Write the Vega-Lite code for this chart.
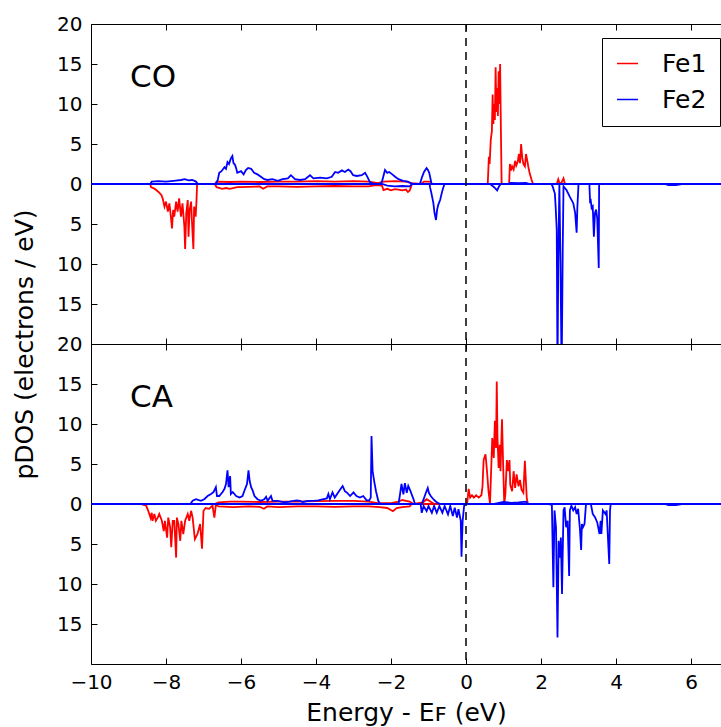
{
  "$schema": "https://vega.github.io/schema/vega-lite/v6.json",
  "padding": {"left": 11, "top": 13, "right": 0, "bottom": 0},
  "spacing": 0,
  "bounds": "flush",
  "config": {
    "font": "DejaVu Sans",
    "view": {"stroke": "black", "strokeWidth": 1},
    "axis": {"domain": false, "grid": false, "tickColor": "black", "tickSize": -6, "tickWidth": 1, "labelFontSize": 20, "labelColor": "black", "titleFontSize": 25, "titleFontWeight": "normal", "titleColor": "black", "labelFlush": false, "labelOverlap": false}
  },
  "resolve": {"scale": {"color": "independent"}},
  "vconcat": [
    {
      "width": 630, "height": 320,
      "resolve": {"axis": {"x": "independent", "y": "independent"}},
      "layer": [
        {
          "data": {"values": [
{"a":"Fe1","s":"u","x":-10,"y":0},{"a":"Fe1","s":"u","x":-6.7,"y":0},{"a":"Fe1","s":"u","x":-6.65,"y":0.3},{"a":"Fe1","s":"u","x":-6.3,"y":0.25},{"a":"Fe1","s":"u","x":-6.0,"y":0.3},{"a":"Fe1","s":"u","x":-5.5,"y":0.25},{"a":"Fe1","s":"u","x":-5.0,"y":0.3},{"a":"Fe1","s":"u","x":-4.5,"y":0.3},{"a":"Fe1","s":"u","x":-4.0,"y":0.35},{"a":"Fe1","s":"u","x":-3.5,"y":0.3},{"a":"Fe1","s":"u","x":-3.0,"y":0.35},{"a":"Fe1","s":"u","x":-2.6,"y":0.3},{"a":"Fe1","s":"u","x":-2.35,"y":0.1},{"a":"Fe1","s":"u","x":-2.2,"y":0.3},{"a":"Fe1","s":"u","x":-1.9,"y":0.35},{"a":"Fe1","s":"u","x":-1.6,"y":0.3},{"a":"Fe1","s":"u","x":-1.45,"y":0.1},{"a":"Fe1","s":"u","x":-1.2,"y":0},{"a":"Fe1","s":"u","x":-1.12,"y":0.3},{"a":"Fe1","s":"u","x":-0.95,"y":0.3},{"a":"Fe1","s":"u","x":-0.9,"y":0},{"a":"Fe1","s":"u","x":0.58,"y":0},{"a":"Fe1","s":"u","x":0.61,"y":3.4},{"a":"Fe1","s":"u","x":0.63,"y":2.5},{"a":"Fe1","s":"u","x":0.66,"y":5.5},{"a":"Fe1","s":"u","x":0.69,"y":6.6},{"a":"Fe1","s":"u","x":0.71,"y":11.2},{"a":"Fe1","s":"u","x":0.73,"y":7.5},{"a":"Fe1","s":"u","x":0.75,"y":10},{"a":"Fe1","s":"u","x":0.77,"y":8},{"a":"Fe1","s":"u","x":0.79,"y":14.6},{"a":"Fe1","s":"u","x":0.81,"y":9},{"a":"Fe1","s":"u","x":0.83,"y":12},{"a":"Fe1","s":"u","x":0.85,"y":8.5},{"a":"Fe1","s":"u","x":0.87,"y":14.1},{"a":"Fe1","s":"u","x":0.89,"y":10},{"a":"Fe1","s":"u","x":0.91,"y":15},{"a":"Fe1","s":"u","x":0.93,"y":7},{"a":"Fe1","s":"u","x":0.95,"y":0},{"a":"Fe1","s":"u","x":1.15,"y":0},{"a":"Fe1","s":"u","x":1.17,"y":2.5},{"a":"Fe1","s":"u","x":1.2,"y":1.7},{"a":"Fe1","s":"u","x":1.23,"y":2.2},{"a":"Fe1","s":"u","x":1.27,"y":1.8},{"a":"Fe1","s":"u","x":1.31,"y":2.9},{"a":"Fe1","s":"u","x":1.34,"y":2.3},{"a":"Fe1","s":"u","x":1.38,"y":2.8},{"a":"Fe1","s":"u","x":1.41,"y":3.75},{"a":"Fe1","s":"u","x":1.44,"y":2.6},{"a":"Fe1","s":"u","x":1.47,"y":5.0},{"a":"Fe1","s":"u","x":1.5,"y":3.3},{"a":"Fe1","s":"u","x":1.53,"y":2.5},{"a":"Fe1","s":"u","x":1.57,"y":2.2},{"a":"Fe1","s":"u","x":1.6,"y":3.75},{"a":"Fe1","s":"u","x":1.63,"y":3.0},{"a":"Fe1","s":"u","x":1.66,"y":2.2},{"a":"Fe1","s":"u","x":1.69,"y":1.5},{"a":"Fe1","s":"u","x":1.75,"y":0.5},{"a":"Fe1","s":"u","x":1.79,"y":0},{"a":"Fe1","s":"u","x":2.42,"y":0},{"a":"Fe1","s":"u","x":2.46,"y":0.6},{"a":"Fe1","s":"u","x":2.5,"y":0},{"a":"Fe1","s":"u","x":2.55,"y":0.2},{"a":"Fe1","s":"u","x":2.6,"y":0.7},{"a":"Fe1","s":"u","x":2.64,"y":0},{"a":"Fe1","s":"u","x":6.8,"y":0},
{"a":"Fe1","s":"d","x":-10,"y":0},{"a":"Fe1","s":"d","x":-8.42,"y":0},{"a":"Fe1","s":"d","x":-8.4,"y":-0.4},{"a":"Fe1","s":"d","x":-8.3,"y":-0.6},{"a":"Fe1","s":"d","x":-8.2,"y":-1.0},{"a":"Fe1","s":"d","x":-8.12,"y":-1.4},{"a":"Fe1","s":"d","x":-8.09,"y":-1.79},{"a":"Fe1","s":"d","x":-8.04,"y":-2.83},{"a":"Fe1","s":"d","x":-8.0,"y":-2.2},{"a":"Fe1","s":"d","x":-7.95,"y":-3.46},{"a":"Fe1","s":"d","x":-7.91,"y":-2.42},{"a":"Fe1","s":"d","x":-7.87,"y":-4.08},{"a":"Fe1","s":"d","x":-7.84,"y":-5.54},{"a":"Fe1","s":"d","x":-7.81,"y":-3.25},{"a":"Fe1","s":"d","x":-7.78,"y":-4.08},{"a":"Fe1","s":"d","x":-7.73,"y":-2.2},{"a":"Fe1","s":"d","x":-7.69,"y":-3.46},{"a":"Fe1","s":"d","x":-7.65,"y":-1.79},{"a":"Fe1","s":"d","x":-7.6,"y":-4.08},{"a":"Fe1","s":"d","x":-7.56,"y":-2.42},{"a":"Fe1","s":"d","x":-7.51,"y":-5.33},{"a":"Fe1","s":"d","x":-7.49,"y":-8.13},{"a":"Fe1","s":"d","x":-7.46,"y":-3.67},{"a":"Fe1","s":"d","x":-7.42,"y":-2.0},{"a":"Fe1","s":"d","x":-7.4,"y":-6.58},{"a":"Fe1","s":"d","x":-7.37,"y":-3.25},{"a":"Fe1","s":"d","x":-7.33,"y":-2.2},{"a":"Fe1","s":"d","x":-7.31,"y":-4.5},{"a":"Fe1","s":"d","x":-7.27,"y":-8.13},{"a":"Fe1","s":"d","x":-7.25,"y":-2.83},{"a":"Fe1","s":"d","x":-7.21,"y":-4.08},{"a":"Fe1","s":"d","x":-7.19,"y":-2.42},{"a":"Fe1","s":"d","x":-7.17,"y":0},{"a":"Fe1","s":"d","x":-6.7,"y":0},{"a":"Fe1","s":"d","x":-6.65,"y":-0.4},{"a":"Fe1","s":"d","x":-6.5,"y":-0.6},{"a":"Fe1","s":"d","x":-6.4,"y":-0.5},{"a":"Fe1","s":"d","x":-6.3,"y":-0.6},{"a":"Fe1","s":"d","x":-6.1,"y":-0.4},{"a":"Fe1","s":"d","x":-5.8,"y":-0.35},{"a":"Fe1","s":"d","x":-5.5,"y":-0.3},{"a":"Fe1","s":"d","x":-5.41,"y":-0.6},{"a":"Fe1","s":"d","x":-5.3,"y":-0.3},{"a":"Fe1","s":"d","x":-5.0,"y":-0.3},{"a":"Fe1","s":"d","x":-4.5,"y":-0.35},{"a":"Fe1","s":"d","x":-4.0,"y":-0.3},{"a":"Fe1","s":"d","x":-3.5,"y":-0.25},{"a":"Fe1","s":"d","x":-3.0,"y":-0.3},{"a":"Fe1","s":"d","x":-2.6,"y":-0.3},{"a":"Fe1","s":"d","x":-2.4,"y":-0.15},{"a":"Fe1","s":"d","x":-2.24,"y":-0.2},{"a":"Fe1","s":"d","x":-2.2,"y":-0.75},{"a":"Fe1","s":"d","x":-2.1,"y":-0.6},{"a":"Fe1","s":"d","x":-2.0,"y":-0.8},{"a":"Fe1","s":"d","x":-1.9,"y":-0.65},{"a":"Fe1","s":"d","x":-1.8,"y":-0.7},{"a":"Fe1","s":"d","x":-1.7,"y":-0.8},{"a":"Fe1","s":"d","x":-1.6,"y":-0.7},{"a":"Fe1","s":"d","x":-1.55,"y":-1.0},{"a":"Fe1","s":"d","x":-1.5,"y":-0.8},{"a":"Fe1","s":"d","x":-1.44,"y":0},{"a":"Fe1","s":"d","x":6.8,"y":0},
{"a":"Fe2","s":"u","x":-10,"y":0},{"a":"Fe2","s":"u","x":-8.42,"y":0},{"a":"Fe2","s":"u","x":-8.38,"y":0.3},{"a":"Fe2","s":"u","x":-8.2,"y":0.35},{"a":"Fe2","s":"u","x":-8.0,"y":0.3},{"a":"Fe2","s":"u","x":-7.8,"y":0.4},{"a":"Fe2","s":"u","x":-7.6,"y":0.5},{"a":"Fe2","s":"u","x":-7.5,"y":0.6},{"a":"Fe2","s":"u","x":-7.4,"y":0.45},{"a":"Fe2","s":"u","x":-7.3,"y":0.5},{"a":"Fe2","s":"u","x":-7.2,"y":0.3},{"a":"Fe2","s":"u","x":-7.15,"y":0},{"a":"Fe2","s":"u","x":-6.67,"y":0},{"a":"Fe2","s":"u","x":-6.62,"y":0.5},{"a":"Fe2","s":"u","x":-6.58,"y":1.4},{"a":"Fe2","s":"u","x":-6.52,"y":1.6},{"a":"Fe2","s":"u","x":-6.44,"y":2.1},{"a":"Fe2","s":"u","x":-6.4,"y":1.9},{"a":"Fe2","s":"u","x":-6.36,"y":2.75},{"a":"Fe2","s":"u","x":-6.32,"y":2.5},{"a":"Fe2","s":"u","x":-6.27,"y":3.2},{"a":"Fe2","s":"u","x":-6.23,"y":3.5},{"a":"Fe2","s":"u","x":-6.2,"y":2.6},{"a":"Fe2","s":"u","x":-6.16,"y":2.4},{"a":"Fe2","s":"u","x":-6.12,"y":1.8},{"a":"Fe2","s":"u","x":-6.1,"y":1.4},{"a":"Fe2","s":"u","x":-6.0,"y":1.6},{"a":"Fe2","s":"u","x":-5.93,"y":1.2},{"a":"Fe2","s":"u","x":-5.87,"y":1.75},{"a":"Fe2","s":"u","x":-5.81,"y":2.0},{"a":"Fe2","s":"u","x":-5.73,"y":1.9},{"a":"Fe2","s":"u","x":-5.65,"y":1.4},{"a":"Fe2","s":"u","x":-5.56,"y":1.2},{"a":"Fe2","s":"u","x":-5.47,"y":0.9},{"a":"Fe2","s":"u","x":-5.38,"y":0.6},{"a":"Fe2","s":"u","x":-5.29,"y":0.5},{"a":"Fe2","s":"u","x":-5.16,"y":0.6},{"a":"Fe2","s":"u","x":-5.02,"y":0.4},{"a":"Fe2","s":"u","x":-4.89,"y":0.6},{"a":"Fe2","s":"u","x":-4.75,"y":0.7},{"a":"Fe2","s":"u","x":-4.67,"y":1.1},{"a":"Fe2","s":"u","x":-4.56,"y":0.6},{"a":"Fe2","s":"u","x":-4.43,"y":0.5},{"a":"Fe2","s":"u","x":-4.29,"y":0.6},{"a":"Fe2","s":"u","x":-4.16,"y":1.1},{"a":"Fe2","s":"u","x":-4.07,"y":0.7},{"a":"Fe2","s":"u","x":-3.89,"y":0.8},{"a":"Fe2","s":"u","x":-3.71,"y":0.7},{"a":"Fe2","s":"u","x":-3.58,"y":0.9},{"a":"Fe2","s":"u","x":-3.49,"y":1.5},{"a":"Fe2","s":"u","x":-3.41,"y":1.4},{"a":"Fe2","s":"u","x":-3.31,"y":1.7},{"a":"Fe2","s":"u","x":-3.23,"y":1.5},{"a":"Fe2","s":"u","x":-3.14,"y":1.8},{"a":"Fe2","s":"u","x":-3.08,"y":1.6},{"a":"Fe2","s":"u","x":-3.01,"y":1.1},{"a":"Fe2","s":"u","x":-2.91,"y":1.0},{"a":"Fe2","s":"u","x":-2.78,"y":1.1},{"a":"Fe2","s":"u","x":-2.69,"y":1.4},{"a":"Fe2","s":"u","x":-2.63,"y":0.9},{"a":"Fe2","s":"u","x":-2.56,"y":0.2},{"a":"Fe2","s":"u","x":-2.47,"y":0.05},{"a":"Fe2","s":"u","x":-2.29,"y":0},{"a":"Fe2","s":"u","x":-2.24,"y":0.3},{"a":"Fe2","s":"u","x":-2.16,"y":1.75},{"a":"Fe2","s":"u","x":-2.1,"y":1.4},{"a":"Fe2","s":"u","x":-2.05,"y":1.5},{"a":"Fe2","s":"u","x":-1.99,"y":1.3},{"a":"Fe2","s":"u","x":-1.89,"y":0.9},{"a":"Fe2","s":"u","x":-1.8,"y":0.6},{"a":"Fe2","s":"u","x":-1.68,"y":0.4},{"a":"Fe2","s":"u","x":-1.55,"y":0.3},{"a":"Fe2","s":"u","x":-1.47,"y":0.1},{"a":"Fe2","s":"u","x":-1.41,"y":0},{"a":"Fe2","s":"u","x":-1.23,"y":0},{"a":"Fe2","s":"u","x":-1.17,"y":0.9},{"a":"Fe2","s":"u","x":-1.12,"y":1.5},{"a":"Fe2","s":"u","x":-1.05,"y":2.0},{"a":"Fe2","s":"u","x":-1.02,"y":1.8},{"a":"Fe2","s":"u","x":-0.98,"y":1.4},{"a":"Fe2","s":"u","x":-0.94,"y":0.5},{"a":"Fe2","s":"u","x":-0.92,"y":0},{"a":"Fe2","s":"u","x":1.1,"y":0},{"a":"Fe2","s":"u","x":1.2,"y":0.15},{"a":"Fe2","s":"u","x":1.4,"y":0.1},{"a":"Fe2","s":"u","x":1.6,"y":0.15},{"a":"Fe2","s":"u","x":1.7,"y":0},{"a":"Fe2","s":"u","x":6.8,"y":0},
{"a":"Fe2","s":"d","x":-10,"y":0},{"a":"Fe2","s":"d","x":-2.24,"y":0},{"a":"Fe2","s":"d","x":-2.1,"y":-0.2},{"a":"Fe2","s":"d","x":-1.9,"y":-0.3},{"a":"Fe2","s":"d","x":-1.7,"y":-0.25},{"a":"Fe2","s":"d","x":-1.5,"y":-0.3},{"a":"Fe2","s":"d","x":-1.44,"y":0},{"a":"Fe2","s":"d","x":-0.97,"y":0},{"a":"Fe2","s":"d","x":-0.96,"y":-0.4},{"a":"Fe2","s":"d","x":-0.92,"y":-1.2},{"a":"Fe2","s":"d","x":-0.87,"y":-2.4},{"a":"Fe2","s":"d","x":-0.84,"y":-3.6},{"a":"Fe2","s":"d","x":-0.8,"y":-4.5},{"a":"Fe2","s":"d","x":-0.77,"y":-3.2},{"a":"Fe2","s":"d","x":-0.74,"y":-2.6},{"a":"Fe2","s":"d","x":-0.69,"y":-2.0},{"a":"Fe2","s":"d","x":-0.65,"y":-1.2},{"a":"Fe2","s":"d","x":-0.61,"y":-0.5},{"a":"Fe2","s":"d","x":-0.57,"y":0},{"a":"Fe2","s":"d","x":0.64,"y":0},{"a":"Fe2","s":"d","x":0.67,"y":-0.1},{"a":"Fe2","s":"d","x":0.75,"y":-0.4},{"a":"Fe2","s":"d","x":0.83,"y":-0.8},{"a":"Fe2","s":"d","x":0.88,"y":-0.3},{"a":"Fe2","s":"d","x":0.92,"y":0},{"a":"Fe2","s":"d","x":2.28,"y":0},{"a":"Fe2","s":"d","x":2.31,"y":-0.3},{"a":"Fe2","s":"d","x":2.37,"y":-1.2},{"a":"Fe2","s":"d","x":2.39,"y":-2.8},{"a":"Fe2","s":"d","x":2.42,"y":-5.75},{"a":"Fe2","s":"d","x":2.43,"y":-15},{"a":"Fe2","s":"d","x":2.44,"y":-24},{"a":"Fe2","s":"d","x":2.46,"y":-10},{"a":"Fe2","s":"d","x":2.49,"y":0},{"a":"Fe2","s":"d","x":2.52,"y":-10},{"a":"Fe2","s":"d","x":2.55,"y":-24},{"a":"Fe2","s":"d","x":2.58,"y":-8},{"a":"Fe2","s":"d","x":2.6,"y":-0.3},{"a":"Fe2","s":"d","x":2.68,"y":-0.75},{"a":"Fe2","s":"d","x":2.77,"y":-1.6},{"a":"Fe2","s":"d","x":2.86,"y":-2.4},{"a":"Fe2","s":"d","x":2.91,"y":-3.6},{"a":"Fe2","s":"d","x":2.95,"y":-6.1},{"a":"Fe2","s":"d","x":2.97,"y":-2.9},{"a":"Fe2","s":"d","x":3.0,"y":0},{"a":"Fe2","s":"d","x":3.29,"y":0},{"a":"Fe2","s":"d","x":3.31,"y":-2.4},{"a":"Fe2","s":"d","x":3.33,"y":-2.2},{"a":"Fe2","s":"d","x":3.35,"y":-3.0},{"a":"Fe2","s":"d","x":3.38,"y":-2.8},{"a":"Fe2","s":"d","x":3.41,"y":-6.6},{"a":"Fe2","s":"d","x":3.44,"y":-3.6},{"a":"Fe2","s":"d","x":3.47,"y":-3.2},{"a":"Fe2","s":"d","x":3.5,"y":-4.3},{"a":"Fe2","s":"d","x":3.54,"y":-10.5},{"a":"Fe2","s":"d","x":3.55,"y":0},{"a":"Fe2","s":"d","x":5.3,"y":0},{"a":"Fe2","s":"d","x":5.4,"y":-0.15},{"a":"Fe2","s":"d","x":5.6,"y":-0.15},{"a":"Fe2","s":"d","x":5.75,"y":0},{"a":"Fe2","s":"d","x":6.8,"y":0}
          ]},
          "mark": {"type": "line", "strokeWidth": 1.8, "clip": true},
          "encoding": {
            "x": {"field": "x", "type": "quantitative", "scale": {"domain": [-10, 6.8], "nice": false, "zero": false},
                  "axis": {"orient": "bottom", "labels": false, "title": null, "values": [-10, -8, -6, -4, -2, 0, 2, 4, 6]}},
            "y": {"field": "y", "type": "quantitative", "scale": {"domain": [-20, 20], "nice": false},
                  "axis": {"values": [-20, -15, -10, -5, 0, 5, 10, 15, 20], "labelExpr": "abs(datum.value)", "labelPadding": 15, "title": "pDOS (electrons / eV)", "titleX": -67, "titleY": 320, "titleBaseline": "middle"}},
            "color": {"field": "a", "type": "nominal", "scale": {"domain": ["Fe1", "Fe2"], "range": ["#ff0000", "#0000ff"]},
                      "legend": {"title": null, "orient": "none", "legendX": 511, "legendY": 14, "strokeColor": "black", "fillColor": "white", "padding": 13, "symbolType": "stroke", "symbolSize": 441, "symbolStrokeWidth": 1.5, "labelFontSize": 25, "labelOffset": 22, "rowPadding": 10, "cornerRadius": 0, "labelColor": "black"}},
            "detail": {"field": "s", "type": "nominal"}
          }
        },
        {
          "data": {"values": [{}]},
          "mark": {"type": "rule", "color": "black", "strokeWidth": 1.5, "strokeDash": [8, 6]},
          "encoding": {"x": {"datum": 0, "type": "quantitative", "axis": {"orient": "top", "labels": false, "title": null, "values": [-10, -8, -6, -4, -2, 0, 2, 4, 6]}}}
        },
        {
          "data": {"values": [{"x": -8.96, "y": 13.25, "t": "CO"}]},
          "mark": {"type": "text", "align": "left", "baseline": "middle", "fontSize": 31, "color": "black"},
          "encoding": {"x": {"field": "x", "type": "quantitative", "axis": null}, "y": {"field": "y", "type": "quantitative", "axis": null}, "text": {"field": "t"}}
        }
      ]
    },
    {
      "width": 630, "height": 320,
      "resolve": {"axis": {"x": "independent", "y": "independent"}},
      "layer": [
        {
          "data": {"values": [
{"a":"Fe1","s":"u","x":-10,"y":0},{"a":"Fe1","s":"u","x":-6.7,"y":0},{"a":"Fe1","s":"u","x":-6.6,"y":0.2},{"a":"Fe1","s":"u","x":-6.3,"y":0.3},{"a":"Fe1","s":"u","x":-6.0,"y":0.3},{"a":"Fe1","s":"u","x":-5.5,"y":0.25},{"a":"Fe1","s":"u","x":-5.0,"y":0.3},{"a":"Fe1","s":"u","x":-4.5,"y":0.3},{"a":"Fe1","s":"u","x":-4.0,"y":0.35},{"a":"Fe1","s":"u","x":-3.5,"y":0.4},{"a":"Fe1","s":"u","x":-3.0,"y":0.4},{"a":"Fe1","s":"u","x":-2.6,"y":0.3},{"a":"Fe1","s":"u","x":-2.35,"y":0.1},{"a":"Fe1","s":"u","x":-2.0,"y":0.1},{"a":"Fe1","s":"u","x":-1.8,"y":0.3},{"a":"Fe1","s":"u","x":-1.7,"y":0.5},{"a":"Fe1","s":"u","x":-1.6,"y":0.4},{"a":"Fe1","s":"u","x":-1.5,"y":0.3},{"a":"Fe1","s":"u","x":-1.4,"y":0},{"a":"Fe1","s":"u","x":-1.15,"y":0.2},{"a":"Fe1","s":"u","x":-1.05,"y":0.6},{"a":"Fe1","s":"u","x":-0.95,"y":0.3},{"a":"Fe1","s":"u","x":-0.85,"y":0},{"a":"Fe1","s":"u","x":0.03,"y":0},{"a":"Fe1","s":"u","x":0.07,"y":1.9},{"a":"Fe1","s":"u","x":0.11,"y":0.8},{"a":"Fe1","s":"u","x":0.16,"y":1.1},{"a":"Fe1","s":"u","x":0.21,"y":0.8},{"a":"Fe1","s":"u","x":0.27,"y":1.1},{"a":"Fe1","s":"u","x":0.34,"y":0.8},{"a":"Fe1","s":"u","x":0.41,"y":1.1},{"a":"Fe1","s":"u","x":0.44,"y":2.2},{"a":"Fe1","s":"u","x":0.47,"y":5.5},{"a":"Fe1","s":"u","x":0.52,"y":6.2},{"a":"Fe1","s":"u","x":0.56,"y":4.1},{"a":"Fe1","s":"u","x":0.6,"y":1.6},{"a":"Fe1","s":"u","x":0.64,"y":0},{"a":"Fe1","s":"u","x":0.67,"y":4.1},{"a":"Fe1","s":"u","x":0.7,"y":8.25},{"a":"Fe1","s":"u","x":0.74,"y":5.75},{"a":"Fe1","s":"u","x":0.77,"y":10.4},{"a":"Fe1","s":"u","x":0.8,"y":7.0},{"a":"Fe1","s":"u","x":0.82,"y":15.3},{"a":"Fe1","s":"u","x":0.84,"y":8.25},{"a":"Fe1","s":"u","x":0.87,"y":4.5},{"a":"Fe1","s":"u","x":0.9,"y":7.4},{"a":"Fe1","s":"u","x":0.92,"y":4.1},{"a":"Fe1","s":"u","x":0.96,"y":10.6},{"a":"Fe1","s":"u","x":0.99,"y":5},{"a":"Fe1","s":"u","x":1.02,"y":0},{"a":"Fe1","s":"u","x":1.05,"y":1.2},{"a":"Fe1","s":"u","x":1.09,"y":5.5},{"a":"Fe1","s":"u","x":1.12,"y":4.1},{"a":"Fe1","s":"u","x":1.16,"y":5.5},{"a":"Fe1","s":"u","x":1.18,"y":2.4},{"a":"Fe1","s":"u","x":1.23,"y":1.6},{"a":"Fe1","s":"u","x":1.27,"y":4.1},{"a":"Fe1","s":"u","x":1.31,"y":2.0},{"a":"Fe1","s":"u","x":1.35,"y":3.7},{"a":"Fe1","s":"u","x":1.4,"y":2.2},{"a":"Fe1","s":"u","x":1.44,"y":3.0},{"a":"Fe1","s":"u","x":1.48,"y":1.8},{"a":"Fe1","s":"u","x":1.53,"y":1.4},{"a":"Fe1","s":"u","x":1.57,"y":5.4},{"a":"Fe1","s":"u","x":1.62,"y":0.75},{"a":"Fe1","s":"u","x":1.65,"y":0},{"a":"Fe1","s":"u","x":6.8,"y":0},
{"a":"Fe1","s":"d","x":-10,"y":0},{"a":"Fe1","s":"d","x":-8.68,"y":0},{"a":"Fe1","s":"d","x":-8.53,"y":-0.2},{"a":"Fe1","s":"d","x":-8.47,"y":-0.9},{"a":"Fe1","s":"d","x":-8.41,"y":-1.75},{"a":"Fe1","s":"d","x":-8.38,"y":-1.1},{"a":"Fe1","s":"d","x":-8.36,"y":-2.1},{"a":"Fe1","s":"d","x":-8.31,"y":-1.25},{"a":"Fe1","s":"d","x":-8.27,"y":-2.1},{"a":"Fe1","s":"d","x":-8.22,"y":-1.7},{"a":"Fe1","s":"d","x":-8.18,"y":-1.25},{"a":"Fe1","s":"d","x":-8.11,"y":-2.1},{"a":"Fe1","s":"d","x":-8.06,"y":-3.4},{"a":"Fe1","s":"d","x":-8.03,"y":-2.1},{"a":"Fe1","s":"d","x":-7.97,"y":-4.2},{"a":"Fe1","s":"d","x":-7.94,"y":-1.7},{"a":"Fe1","s":"d","x":-7.89,"y":-2.9},{"a":"Fe1","s":"d","x":-7.86,"y":-5.4},{"a":"Fe1","s":"d","x":-7.82,"y":-2.1},{"a":"Fe1","s":"d","x":-7.78,"y":-2.1},{"a":"Fe1","s":"d","x":-7.73,"y":-6.7},{"a":"Fe1","s":"d","x":-7.71,"y":-1.7},{"a":"Fe1","s":"d","x":-7.67,"y":-2.5},{"a":"Fe1","s":"d","x":-7.62,"y":-4.6},{"a":"Fe1","s":"d","x":-7.59,"y":-2.1},{"a":"Fe1","s":"d","x":-7.54,"y":-3.75},{"a":"Fe1","s":"d","x":-7.49,"y":-2.1},{"a":"Fe1","s":"d","x":-7.42,"y":-1.25},{"a":"Fe1","s":"d","x":-7.38,"y":-2.1},{"a":"Fe1","s":"d","x":-7.33,"y":-0.85},{"a":"Fe1","s":"d","x":-7.29,"y":-1.7},{"a":"Fe1","s":"d","x":-7.23,"y":-4.4},{"a":"Fe1","s":"d","x":-7.16,"y":-3.75},{"a":"Fe1","s":"d","x":-7.09,"y":-2.5},{"a":"Fe1","s":"d","x":-7.04,"y":-5.6},{"a":"Fe1","s":"d","x":-7.0,"y":-0.85},{"a":"Fe1","s":"d","x":-6.94,"y":-0.5},{"a":"Fe1","s":"d","x":-6.85,"y":-0.6},{"a":"Fe1","s":"d","x":-6.76,"y":-0.2},{"a":"Fe1","s":"d","x":-6.71,"y":-1.7},{"a":"Fe1","s":"d","x":-6.67,"y":-0.1},{"a":"Fe1","s":"d","x":-6.6,"y":-0.3},{"a":"Fe1","s":"d","x":-6.2,"y":-0.4},{"a":"Fe1","s":"d","x":-5.8,"y":-0.3},{"a":"Fe1","s":"d","x":-5.5,"y":-0.35},{"a":"Fe1","s":"d","x":-5.39,"y":-0.6},{"a":"Fe1","s":"d","x":-5.3,"y":-0.3},{"a":"Fe1","s":"d","x":-5.0,"y":-0.4},{"a":"Fe1","s":"d","x":-4.5,"y":-0.3},{"a":"Fe1","s":"d","x":-4.0,"y":-0.3},{"a":"Fe1","s":"d","x":-3.5,"y":-0.35},{"a":"Fe1","s":"d","x":-3.0,"y":-0.3},{"a":"Fe1","s":"d","x":-2.6,"y":-0.3},{"a":"Fe1","s":"d","x":-2.3,"y":-0.4},{"a":"Fe1","s":"d","x":-2.1,"y":-0.5},{"a":"Fe1","s":"d","x":-1.95,"y":-0.9},{"a":"Fe1","s":"d","x":-1.85,"y":-0.5},{"a":"Fe1","s":"d","x":-1.7,"y":-0.4},{"a":"Fe1","s":"d","x":-1.5,"y":-0.3},{"a":"Fe1","s":"d","x":-1.45,"y":0},{"a":"Fe1","s":"d","x":6.8,"y":0},
{"a":"Fe2","s":"u","x":-10,"y":0},{"a":"Fe2","s":"u","x":-7.35,"y":0},{"a":"Fe2","s":"u","x":-7.29,"y":0.4},{"a":"Fe2","s":"u","x":-7.2,"y":0.6},{"a":"Fe2","s":"u","x":-7.07,"y":0.4},{"a":"Fe2","s":"u","x":-6.98,"y":0.6},{"a":"Fe2","s":"u","x":-6.89,"y":1.0},{"a":"Fe2","s":"u","x":-6.8,"y":1.25},{"a":"Fe2","s":"u","x":-6.73,"y":1.5},{"a":"Fe2","s":"u","x":-6.67,"y":2.1},{"a":"Fe2","s":"u","x":-6.64,"y":1.0},{"a":"Fe2","s":"u","x":-6.58,"y":1.0},{"a":"Fe2","s":"u","x":-6.49,"y":1.5},{"a":"Fe2","s":"u","x":-6.44,"y":1.9},{"a":"Fe2","s":"u","x":-6.4,"y":2.5},{"a":"Fe2","s":"u","x":-6.36,"y":4.2},{"a":"Fe2","s":"u","x":-6.33,"y":2.1},{"a":"Fe2","s":"u","x":-6.29,"y":3.5},{"a":"Fe2","s":"u","x":-6.27,"y":1.25},{"a":"Fe2","s":"u","x":-6.22,"y":1.5},{"a":"Fe2","s":"u","x":-6.13,"y":1.0},{"a":"Fe2","s":"u","x":-6.04,"y":0.8},{"a":"Fe2","s":"u","x":-5.96,"y":1.0},{"a":"Fe2","s":"u","x":-5.89,"y":1.9},{"a":"Fe2","s":"u","x":-5.84,"y":2.5},{"a":"Fe2","s":"u","x":-5.8,"y":4.2},{"a":"Fe2","s":"u","x":-5.77,"y":2.9},{"a":"Fe2","s":"u","x":-5.73,"y":2.1},{"a":"Fe2","s":"u","x":-5.69,"y":1.7},{"a":"Fe2","s":"u","x":-5.64,"y":1.0},{"a":"Fe2","s":"u","x":-5.56,"y":0.6},{"a":"Fe2","s":"u","x":-5.47,"y":0.4},{"a":"Fe2","s":"u","x":-5.38,"y":0.6},{"a":"Fe2","s":"u","x":-5.33,"y":0.9},{"a":"Fe2","s":"u","x":-5.29,"y":0.4},{"a":"Fe2","s":"u","x":-5.2,"y":1.0},{"a":"Fe2","s":"u","x":-5.16,"y":0.4},{"a":"Fe2","s":"u","x":-5.02,"y":0.4},{"a":"Fe2","s":"u","x":-4.84,"y":0.2},{"a":"Fe2","s":"u","x":-4.71,"y":0.3},{"a":"Fe2","s":"u","x":-4.6,"y":0.4},{"a":"Fe2","s":"u","x":-4.51,"y":0.45},{"a":"Fe2","s":"u","x":-4.43,"y":0.4},{"a":"Fe2","s":"u","x":-4.35,"y":0.25},{"a":"Fe2","s":"u","x":-4.21,"y":0.4},{"a":"Fe2","s":"u","x":-4.07,"y":0.4},{"a":"Fe2","s":"u","x":-3.94,"y":0.45},{"a":"Fe2","s":"u","x":-3.8,"y":0.6},{"a":"Fe2","s":"u","x":-3.71,"y":0.7},{"a":"Fe2","s":"u","x":-3.67,"y":1.25},{"a":"Fe2","s":"u","x":-3.63,"y":0.6},{"a":"Fe2","s":"u","x":-3.56,"y":1.45},{"a":"Fe2","s":"u","x":-3.5,"y":0.8},{"a":"Fe2","s":"u","x":-3.41,"y":1.45},{"a":"Fe2","s":"u","x":-3.35,"y":1.85},{"a":"Fe2","s":"u","x":-3.29,"y":2.25},{"a":"Fe2","s":"u","x":-3.23,"y":1.6},{"a":"Fe2","s":"u","x":-3.18,"y":1.45},{"a":"Fe2","s":"u","x":-3.09,"y":1.0},{"a":"Fe2","s":"u","x":-3.0,"y":1.45},{"a":"Fe2","s":"u","x":-2.92,"y":1.0},{"a":"Fe2","s":"u","x":-2.83,"y":0.8},{"a":"Fe2","s":"u","x":-2.74,"y":1.0},{"a":"Fe2","s":"u","x":-2.65,"y":0.45},{"a":"Fe2","s":"u","x":-2.58,"y":0.45},{"a":"Fe2","s":"u","x":-2.54,"y":0.8},{"a":"Fe2","s":"u","x":-2.52,"y":8.5},{"a":"Fe2","s":"u","x":-2.49,"y":4.1},{"a":"Fe2","s":"u","x":-2.45,"y":2.9},{"a":"Fe2","s":"u","x":-2.4,"y":1.6},{"a":"Fe2","s":"u","x":-2.34,"y":0.4},{"a":"Fe2","s":"u","x":-2.29,"y":0},{"a":"Fe2","s":"u","x":-1.8,"y":0},{"a":"Fe2","s":"u","x":-1.76,"y":1.2},{"a":"Fe2","s":"u","x":-1.72,"y":2.5},{"a":"Fe2","s":"u","x":-1.67,"y":1.2},{"a":"Fe2","s":"u","x":-1.63,"y":2.6},{"a":"Fe2","s":"u","x":-1.58,"y":1.4},{"a":"Fe2","s":"u","x":-1.54,"y":2.25},{"a":"Fe2","s":"u","x":-1.48,"y":1.6},{"a":"Fe2","s":"u","x":-1.4,"y":0.6},{"a":"Fe2","s":"u","x":-1.36,"y":0},{"a":"Fe2","s":"u","x":-1.18,"y":0},{"a":"Fe2","s":"u","x":-1.13,"y":0.6},{"a":"Fe2","s":"u","x":-1.07,"y":1.4},{"a":"Fe2","s":"u","x":-1.02,"y":2.0},{"a":"Fe2","s":"u","x":-0.99,"y":1.4},{"a":"Fe2","s":"u","x":-0.94,"y":1.0},{"a":"Fe2","s":"u","x":-0.87,"y":0.6},{"a":"Fe2","s":"u","x":-0.78,"y":0.2},{"a":"Fe2","s":"u","x":-0.69,"y":0},{"a":"Fe2","s":"u","x":0.75,"y":0},{"a":"Fe2","s":"u","x":0.85,"y":0.1},{"a":"Fe2","s":"u","x":1.0,"y":0.25},{"a":"Fe2","s":"u","x":1.2,"y":0.15},{"a":"Fe2","s":"u","x":1.4,"y":0.2},{"a":"Fe2","s":"u","x":1.6,"y":0.3},{"a":"Fe2","s":"u","x":1.66,"y":0},{"a":"Fe2","s":"u","x":6.8,"y":0},
{"a":"Fe2","s":"d","x":-10,"y":0},{"a":"Fe2","s":"d","x":-1.21,"y":0},{"a":"Fe2","s":"d","x":-1.18,"y":-1.1},{"a":"Fe2","s":"d","x":-1.13,"y":-0.25},{"a":"Fe2","s":"d","x":-1.05,"y":-0.9},{"a":"Fe2","s":"d","x":-1.0,"y":-0.25},{"a":"Fe2","s":"d","x":-0.91,"y":-1.1},{"a":"Fe2","s":"d","x":-0.85,"y":-0.25},{"a":"Fe2","s":"d","x":-0.78,"y":-1.1},{"a":"Fe2","s":"d","x":-0.71,"y":-0.25},{"a":"Fe2","s":"d","x":-0.63,"y":-1.1},{"a":"Fe2","s":"d","x":-0.57,"y":-0.25},{"a":"Fe2","s":"d","x":-0.48,"y":-1.3},{"a":"Fe2","s":"d","x":-0.42,"y":-0.25},{"a":"Fe2","s":"d","x":-0.35,"y":-1.5},{"a":"Fe2","s":"d","x":-0.3,"y":-0.45},{"a":"Fe2","s":"d","x":-0.24,"y":-1.7},{"a":"Fe2","s":"d","x":-0.2,"y":-0.65},{"a":"Fe2","s":"d","x":-0.14,"y":-2.1},{"a":"Fe2","s":"d","x":-0.12,"y":-6.6},{"a":"Fe2","s":"d","x":-0.09,"y":-2.1},{"a":"Fe2","s":"d","x":-0.05,"y":-0.25},{"a":"Fe2","s":"d","x":-0.03,"y":0},{"a":"Fe2","s":"d","x":2.2,"y":0},{"a":"Fe2","s":"d","x":2.29,"y":-0.1},{"a":"Fe2","s":"d","x":2.33,"y":-10.4},{"a":"Fe2","s":"d","x":2.36,"y":-0.8},{"a":"Fe2","s":"d","x":2.4,"y":-2.9},{"a":"Fe2","s":"d","x":2.44,"y":-16.7},{"a":"Fe2","s":"d","x":2.47,"y":-4.6},{"a":"Fe2","s":"d","x":2.51,"y":-6.7},{"a":"Fe2","s":"d","x":2.53,"y":-4.2},{"a":"Fe2","s":"d","x":2.56,"y":-11.25},{"a":"Fe2","s":"d","x":2.6,"y":-0.8},{"a":"Fe2","s":"d","x":2.63,"y":-0.4},{"a":"Fe2","s":"d","x":2.67,"y":-2.9},{"a":"Fe2","s":"d","x":2.71,"y":-2.1},{"a":"Fe2","s":"d","x":2.75,"y":-9.0},{"a":"Fe2","s":"d","x":2.77,"y":-0.8},{"a":"Fe2","s":"d","x":2.81,"y":-0.2},{"a":"Fe2","s":"d","x":2.86,"y":-0.8},{"a":"Fe2","s":"d","x":2.91,"y":-0.4},{"a":"Fe2","s":"d","x":2.95,"y":-1.25},{"a":"Fe2","s":"d","x":2.99,"y":-0.6},{"a":"Fe2","s":"d","x":3.04,"y":-3.25},{"a":"Fe2","s":"d","x":3.07,"y":-5.75},{"a":"Fe2","s":"d","x":3.09,"y":-2.5},{"a":"Fe2","s":"d","x":3.12,"y":-2.9},{"a":"Fe2","s":"d","x":3.16,"y":-2.5},{"a":"Fe2","s":"d","x":3.2,"y":0},{"a":"Fe2","s":"d","x":3.33,"y":0},{"a":"Fe2","s":"d","x":3.38,"y":-1.25},{"a":"Fe2","s":"d","x":3.44,"y":-1.65},{"a":"Fe2","s":"d","x":3.5,"y":-2.3},{"a":"Fe2","s":"d","x":3.56,"y":-3.75},{"a":"Fe2","s":"d","x":3.59,"y":-2.1},{"a":"Fe2","s":"d","x":3.61,"y":-3.75},{"a":"Fe2","s":"d","x":3.65,"y":-0.8},{"a":"Fe2","s":"d","x":3.72,"y":-1.25},{"a":"Fe2","s":"d","x":3.75,"y":-0.8},{"a":"Fe2","s":"d","x":3.82,"y":-7.5},{"a":"Fe2","s":"d","x":3.84,"y":-0.8},{"a":"Fe2","s":"d","x":3.86,"y":0},{"a":"Fe2","s":"d","x":5.3,"y":0},{"a":"Fe2","s":"d","x":5.4,"y":-0.15},{"a":"Fe2","s":"d","x":5.6,"y":-0.15},{"a":"Fe2","s":"d","x":5.75,"y":0},{"a":"Fe2","s":"d","x":6.8,"y":0}
          ]},
          "mark": {"type": "line", "strokeWidth": 1.8, "clip": true},
          "encoding": {
            "x": {"field": "x", "type": "quantitative", "scale": {"domain": [-10, 6.8], "nice": false, "zero": false},
                  "axis": {"orient": "bottom", "values": [-10, -8, -6, -4, -2, 0, 2, 4, 6], "labelPadding": 14, "title": "Energy - Eꜰ (eV)", "titlePadding": 8}},
            "y": {"field": "y", "type": "quantitative", "scale": {"domain": [-20, 20], "nice": false},
                  "axis": {"values": [-15, -10, -5, 0, 5, 10, 15], "labelExpr": "abs(datum.value)", "labelPadding": 15, "title": null}},
            "color": {"field": "a", "type": "nominal", "scale": {"domain": ["Fe1", "Fe2"], "range": ["#ff0000", "#0000ff"]}, "legend": null},
            "detail": {"field": "s", "type": "nominal"}
          }
        },
        {
          "data": {"values": [{}]},
          "mark": {"type": "rule", "color": "black", "strokeWidth": 1.5, "strokeDash": [8, 6]},
          "encoding": {"x": {"datum": 0, "type": "quantitative", "axis": {"orient": "top", "labels": false, "title": null, "values": [-10, -8, -6, -4, -2, 0, 2, 4, 6]}}}
        },
        {
          "data": {"values": [{"x": -8.96, "y": 13.25, "t": "CA"}]},
          "mark": {"type": "text", "align": "left", "baseline": "middle", "fontSize": 31, "color": "black"},
          "encoding": {"x": {"field": "x", "type": "quantitative", "axis": null}, "y": {"field": "y", "type": "quantitative", "axis": null}, "text": {"field": "t"}}
        }
      ]
    }
  ]
}
